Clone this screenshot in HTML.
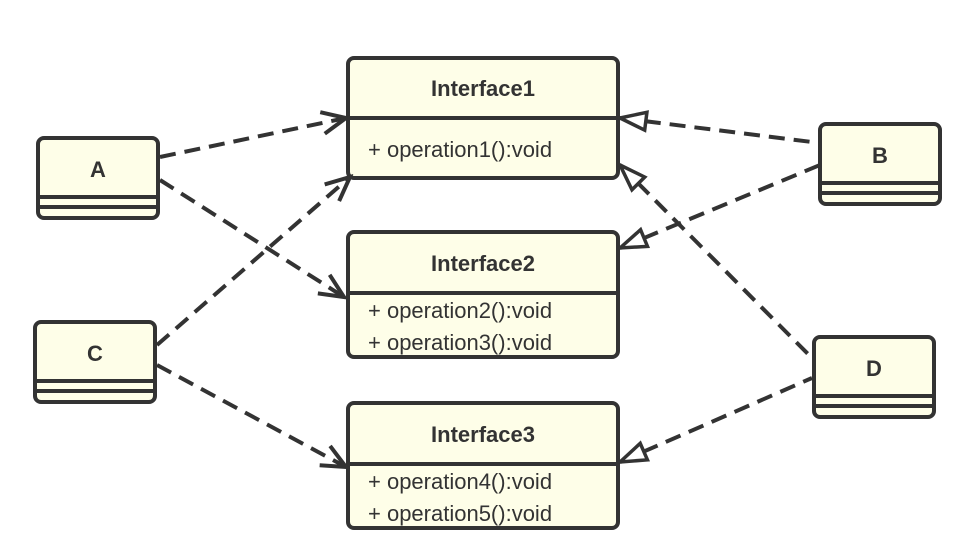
<!DOCTYPE html>
<html><head><meta charset="utf-8"><style>body{margin:0;background:#fff}svg{display:block}text{font-family:"Liberation Sans",Arial,sans-serif;fill:#333}</style></head><body>
<svg width="980" height="560" viewBox="0 0 980 560">
<defs>
<marker id="open" markerWidth="30" markerHeight="30" refX="26" refY="15" orient="auto" markerUnits="userSpaceOnUse"><path d="M2,4 L26,15 L2,26" fill="none" stroke="#333" stroke-width="4" stroke-dasharray="none"/></marker>
<marker id="tri" markerWidth="32" markerHeight="26" refX="2" refY="13" orient="auto" markerUnits="userSpaceOnUse"><path d="M2,13 L28,4 L28,22 Z" fill="#fff" stroke="#333" stroke-width="3.5" stroke-dasharray="none"/></marker>
</defs>
<g fill="#fefee8" stroke="#333" stroke-width="4">
<rect x="348" y="58" width="270" height="120" rx="6"/><line x1="348" y1="118" x2="618" y2="118"/>
<rect x="348" y="232" width="270" height="125" rx="6"/><line x1="348" y1="293" x2="618" y2="293"/>
<rect x="348" y="403" width="270" height="125" rx="6"/><line x1="348" y1="464" x2="618" y2="464"/>
<rect x="38" y="138" width="120" height="80" rx="6"/><line x1="38" y1="197" x2="158" y2="197"/><line x1="38" y1="207" x2="158" y2="207"/>
<rect x="820" y="124" width="120" height="80" rx="6"/><line x1="820" y1="183" x2="940" y2="183"/><line x1="820" y1="193" x2="940" y2="193"/>
<rect x="35" y="322" width="120" height="80" rx="6"/><line x1="35" y1="381" x2="155" y2="381"/><line x1="35" y1="391" x2="155" y2="391"/>
<rect x="814" y="337" width="120" height="80" rx="6"/><line x1="814" y1="396" x2="934" y2="396"/><line x1="814" y1="406" x2="934" y2="406"/>
</g>
<g stroke="#333" stroke-width="4" stroke-dasharray="16 9" fill="none">
<line x1="160" y1="157" x2="346" y2="118" marker-end="url(#open)"/>
<line x1="160" y1="180" x2="344" y2="297" marker-end="url(#open)"/>
<line x1="157" y1="345" x2="350" y2="177" marker-end="url(#open)"/>
<line x1="157" y1="365" x2="346" y2="467" marker-end="url(#open)"/>
<line x1="620" y1="118" x2="820" y2="143" marker-start="url(#tri)"/>
<line x1="620" y1="248" x2="820" y2="165" marker-start="url(#tri)"/>
<line x1="620" y1="165" x2="812" y2="358" marker-start="url(#tri)"/>
<line x1="620" y1="462" x2="812" y2="378" marker-start="url(#tri)"/>
</g>
<g font-size="22" font-weight="bold" text-anchor="middle">
<text x="483" y="96">Interface1</text><text x="483" y="271">Interface2</text><text x="483" y="442">Interface3</text>
<text x="98" y="177">A</text><text x="880" y="163">B</text><text x="95" y="361">C</text><text x="874" y="376">D</text>
</g>
<g font-size="22">
<text x="368" y="157">+ operation1():void</text>
<text x="368" y="318">+ operation2():void</text><text x="368" y="350">+ operation3():void</text>
<text x="368" y="489">+ operation4():void</text><text x="368" y="521">+ operation5():void</text>
</g>
</svg>
</body></html>
